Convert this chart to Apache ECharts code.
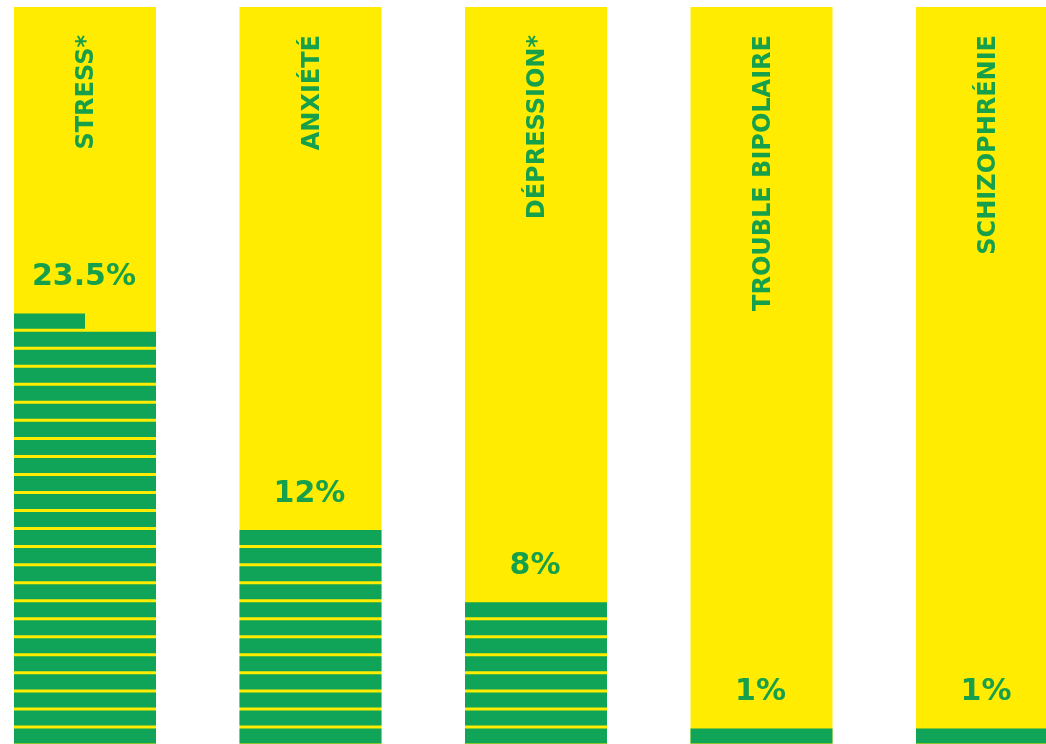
<!DOCTYPE html>
<html>
<head>
<meta charset="utf-8">
<script src="https://cdn.jsdelivr.net/npm/echarts@6/dist/echarts.min.js"></script>
<style>
html,body{margin:0;padding:0;background:#ffffff;}
#chart{width:1046px;height:744px;}
</style>
</head>
<body>
<div id="chart"></div>
<script>
const categories = ['STRESS*', 'ANXIÉTÉ', 'DÉPRESSION*', 'TROUBLE BIPOLAIRE', 'SCHIZOPHRÉNIE'];
const values = [23.5, 12, 8, 1, 1];
const valueLabels = ['23.5%', '12%', '8%', '1%', '1%'];

const YELLOW = '#FFEC00';
const GREEN = '#0FA457';
const TEXT_GREEN = '#17A04B';
const BAR_W = 142;
const GAP = 3;
const FONT = '"DejaVu Sans", "Liberation Sans", Arial, sans-serif';

const chart = echarts.init(document.getElementById('chart'), null, {renderer: 'canvas'});

function renderItem(params, api) {
  const ci = api.value(0);
  const v = api.value(1);
  const base = api.coord([ci, 0]);
  const cx = base[0];
  const n = Math.ceil(v);
  const children = [];
  for (let i = 0; i < n; i++) {
    const top = api.coord([ci, i + 1])[1];
    const bottom = api.coord([ci, i])[1];
    const frac = Math.min(1, v - i);
    children.push({
      type: 'rect',
      shape: {x: cx - BAR_W / 2, y: top, width: BAR_W * frac, height: bottom - top - GAP},
      style: {fill: GREEN}
    });
  }
  const stackTop = api.coord([ci, n])[1];
  children.push({
    type: 'text',
    x: cx - 1,
    y: stackTop - 36,
    style: {
      text: valueLabels[params.dataIndex],
      fill: TEXT_GREEN,
      fontSize: 30,
      fontWeight: 'bold',
      fontFamily: FONT,
      align: 'center',
      verticalAlign: 'middle'
    }
  });
  children.push({
    type: 'text',
    x: cx + 2,
    y: 35,
    rotation: Math.PI / 2,
    style: {
      text: categories[params.dataIndex],
      fill: TEXT_GREEN,
      fontSize: 24,
      fontWeight: 'bold',
      fontFamily: FONT,
      align: 'right',
      verticalAlign: 'middle'
    }
  });
  return {type: 'group', children: children};
}

chart.setOption({
  backgroundColor: '#ffffff',
  animation: false,
  grid: {left: -27.75, width: 1127.5, top: 7, height: 739.5, outerBoundsMode: 'none', containLabel: false},
  xAxis: {
    type: 'category',
    data: categories,
    show: false
  },
  yAxis: {
    type: 'value',
    min: 0,
    max: 41,
    show: false
  },
  series: [
    {
      type: 'bar',
      data: values,
      barWidth: BAR_W,
      showBackground: true,
      backgroundStyle: {color: YELLOW},
      itemStyle: {color: 'rgba(0,0,0,0)'},
      silent: true
    },
    {
      type: 'custom',
      renderItem: renderItem,
      clip: false,
      data: values.map((v, i) => [i, v]),
      silent: true
    }
  ]
});
</script>
</body>
</html>
